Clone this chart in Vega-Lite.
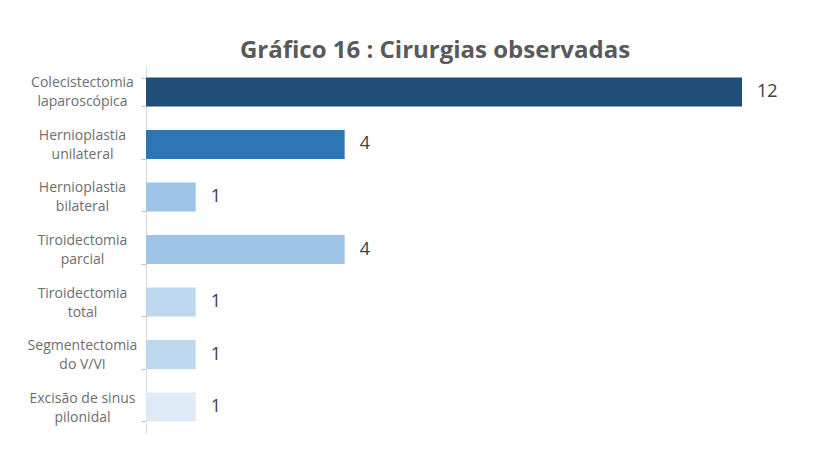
{
  "$schema": "https://vega.github.io/schema/vega-lite/v6.json",
  "width": 596,
  "height": 367,
  "autosize": {"type": "none"},
  "padding": {"left": 146, "top": 66, "right": 75, "bottom": 31},
  "background": "white",
  "title": {
    "text": "Gráfico 16 : Cirurgias observadas",
    "font": "Open Sans",
    "fontSize": 24,
    "fontWeight": "bold",
    "color": "#595959",
    "anchor": "middle",
    "dx": -9,
    "dy": 4,
    "offset": 0
  },
  "data": {
    "values": [
      {"cirurgia": "Colecistectomia\nlaparoscópica", "n": 12, "cor": "#1F4E79"},
      {"cirurgia": "Hernioplastia\nunilateral", "n": 4, "cor": "#2E75B6"},
      {"cirurgia": "Hernioplastia\nbilateral", "n": 1, "cor": "#9DC3E6"},
      {"cirurgia": "Tiroidectomia\nparcial", "n": 4, "cor": "#9DC3E6"},
      {"cirurgia": "Tiroidectomia\ntotal", "n": 1, "cor": "#BDD7EE"},
      {"cirurgia": "Segmentectomia\ndo V/VI", "n": 1, "cor": "#BDD7EE"},
      {"cirurgia": "Excisão de sinus\npilonidal", "n": 1, "cor": "#DEEBF7"}
    ]
  },
  "encoding": {
    "y": {
      "field": "cirurgia",
      "type": "nominal",
      "sort": null,
      "scale": {"paddingInner": 0.45, "paddingOuter": 0.22},
      "axis": {
        "title": null,
        "labelExpr": "datum.value ? split(datum.value, '\\n') : ''",
        "labelFont": "Open Sans",
        "labelFontSize": 14,
        "labelColor": "#6E6E6E",
        "labelLineHeight": 19,
        "labelAlign": "center",
        "labelPadding": 59,
        "labelOffset": -9,
        "domainColor": "#D9D9D9",
        "tickColor": "#BFBFBF",
        "tickBand": "extent",
        "tickSize": 5,
        "labelBound": false
      }
    },
    "x": {
      "field": "n",
      "type": "quantitative",
      "scale": {"domain": [0, 12], "nice": false},
      "axis": null
    }
  },
  "layer": [
    {
      "mark": {"type": "bar"},
      "encoding": {"color": {"field": "cor", "type": "nominal", "scale": null}}
    },
    {
      "mark": {"type": "text", "align": "left", "dx": 15, "font": "Open Sans", "fontSize": 18, "color": "#404040"},
      "encoding": {"text": {"field": "n", "type": "quantitative"}}
    }
  ],
  "config": {"view": {"stroke": null}}
}
